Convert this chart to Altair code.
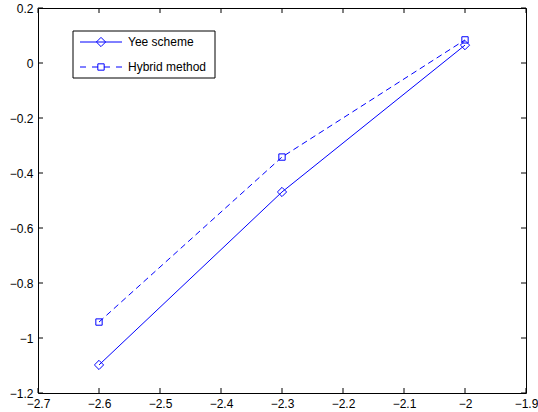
import altair as alt
import pandas as pd

x_vals = [-2.6, -2.3, -2.0]
yee = [-1.098, -0.469, 0.065]
hybrid = [-0.942, -0.342, 0.084]
x_ticks = [-2.7, -2.6, -2.5, -2.4, -2.3, -2.2, -2.1, -2.0, -1.9]
y_ticks = [-1.2, -1.0, -0.8, -0.6, -0.4, -0.2, 0.0, 0.2]
series_names = ["Yee scheme", "Hybrid method"]

W, H = 488, 385
BLUE = "#0000ff"
FONT = "Liberation Sans"
FS = 12

df_yee = pd.DataFrame({"x": x_vals, "y": yee})
df_hyb = pd.DataFrame({"x": x_vals, "y": hybrid})
df_xt = pd.DataFrame({"t": x_ticks})
df_yt = pd.DataFrame({"t": y_ticks})
df_one = pd.DataFrame({"a": [0]})

xs = alt.Scale(domain=[-2.7, -1.9], nice=False, zero=False)
ys = alt.Scale(domain=[-1.2, 0.2], nice=False, zero=False)

xaxis = alt.Axis(values=x_ticks, format="~g", ticks=False, domain=False, grid=False,
                 title=None, labelPadding=5, labelFontSize=FS, labelFont=FONT,
                 labelColor="black", labelFlush=False, labelOverlap=False)
yaxis = alt.Axis(values=y_ticks, format="~g", ticks=False, domain=False, grid=False,
                 title=None, labelPadding=5, labelFontSize=FS, labelFont=FONT,
                 labelColor="black", labelFlush=False, labelOverlap=False)

yee_line = alt.Chart(df_yee).mark_line(color=BLUE, strokeWidth=1).encode(
    x=alt.X("x:Q", scale=xs, axis=xaxis),
    y=alt.Y("y:Q", scale=ys, axis=yaxis),
)
yee_pts = alt.Chart(df_yee).mark_point(shape="diamond", size=85, color=BLUE, filled=False, strokeWidth=1, opacity=1).encode(
    x=alt.X("x:Q", scale=xs), y=alt.Y("y:Q", scale=ys))
hyb_line = alt.Chart(df_hyb).mark_line(color=BLUE, strokeWidth=1, strokeDash=[6, 4]).encode(
    x=alt.X("x:Q", scale=xs), y=alt.Y("y:Q", scale=ys))
hyb_pts = alt.Chart(df_hyb).mark_point(shape="square", size=40, color=BLUE, filled=False, strokeWidth=1, opacity=1).encode(
    x=alt.X("x:Q", scale=xs), y=alt.Y("y:Q", scale=ys))

tick_len = 5
xt_bot = alt.Chart(df_xt).mark_rule(color="black", strokeWidth=1).encode(
    x=alt.X("t:Q", scale=xs), y=alt.value(H), y2=alt.value(H - tick_len))
xt_top = alt.Chart(df_xt).mark_rule(color="black", strokeWidth=1).encode(
    x=alt.X("t:Q", scale=xs), y=alt.value(0), y2=alt.value(tick_len))
yt_left = alt.Chart(df_yt).mark_rule(color="black", strokeWidth=1).encode(
    y=alt.Y("t:Q", scale=ys), x=alt.value(0), x2=alt.value(tick_len))
yt_right = alt.Chart(df_yt).mark_rule(color="black", strokeWidth=1).encode(
    y=alt.Y("t:Q", scale=ys), x=alt.value(W), x2=alt.value(W - tick_len))

# legend
lx0, lx1, ly0, ly1 = 35, 177, 23, 70
r1, r2 = 34, 59
leg_box = alt.Chart(df_one).mark_rect(fill="white", stroke="black", strokeWidth=1).encode(
    x=alt.value(lx0), x2=alt.value(lx1), y=alt.value(ly0), y2=alt.value(ly1))
leg_l1 = alt.Chart(df_one).mark_rule(color=BLUE, strokeWidth=1).encode(
    x=alt.value(42), x2=alt.value(84), y=alt.value(r1))
leg_l2 = alt.Chart(df_one).mark_rule(color=BLUE, strokeWidth=1, strokeDash=[6, 6]).encode(
    x=alt.value(42), x2=alt.value(84), y=alt.value(r2))
leg_p1 = alt.Chart(df_one).mark_point(shape="diamond", size=85, color=BLUE, filled=False, strokeWidth=1, opacity=1).encode(
    x=alt.value(63), y=alt.value(r1))
leg_p2 = alt.Chart(df_one).mark_point(shape="square", size=40, color=BLUE, filled=False, strokeWidth=1, opacity=1).encode(
    x=alt.value(63), y=alt.value(r2))
leg_t1 = alt.Chart(df_one).mark_text(align="left", baseline="middle", font=FONT, fontSize=FS, color="black").encode(
    x=alt.value(90), y=alt.value(r1), text=alt.value(series_names[0]))
leg_t2 = alt.Chart(df_one).mark_text(align="left", baseline="middle", font=FONT, fontSize=FS, color="black").encode(
    x=alt.value(90), y=alt.value(r2), text=alt.value(series_names[1]))

chart = alt.layer(
    yee_line, hyb_line, yee_pts, hyb_pts,
    xt_bot, xt_top, yt_left, yt_right,
    leg_box, leg_l1, leg_l2, leg_p1, leg_p2, leg_t1, leg_t2,
).properties(
    width=W, height=H,
    autosize=alt.AutoSizeParams(type="none"),
    padding={"left": 38, "top": 8, "right": 12, "bottom": 19},
    background="white",
).configure_view(stroke="black", strokeWidth=1)

chart.save("out.html", embed_options={"renderer": "svg", "actions": False})
